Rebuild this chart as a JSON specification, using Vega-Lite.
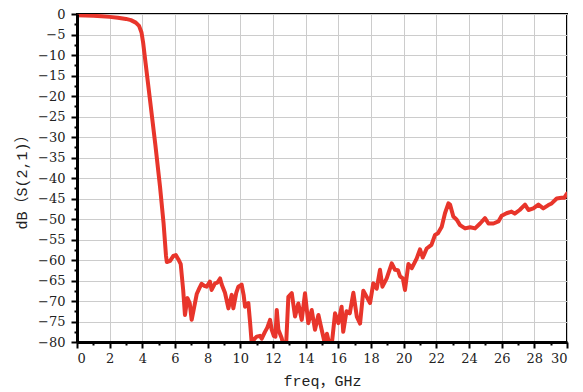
{
  "$schema": "https://vega.github.io/schema/vega-lite/v6.json",
  "width": 490,
  "height": 328,
  "autosize": "none",
  "padding": {"left": 77, "top": 14, "right": 16, "bottom": 50},
  "background": "white",
  "config": {
    "view": {"stroke": "black", "strokeWidth": 2},
    "axis": {
      "domainColor": "black",
      "domainWidth": 3,
      "tickColor": "black",
      "tickWidth": 2,
      "gridColor": "#cccccc",
      "gridWidth": 1
    }
  },
  "data": {
    "values": [
      {"f": 0, "s": -0.3}, {"f": 0.5, "s": -0.35}, {"f": 1, "s": -0.45}, {"f": 1.5, "s": -0.55},
      {"f": 2, "s": -0.7}, {"f": 2.5, "s": -0.9}, {"f": 3, "s": -1.2}, {"f": 3.3, "s": -1.5},
      {"f": 3.6, "s": -2.1}, {"f": 3.8, "s": -2.9}, {"f": 3.95, "s": -4.5}, {"f": 4.05, "s": -7},
      {"f": 4.2, "s": -12}, {"f": 4.47, "s": -21}, {"f": 4.8, "s": -32}, {"f": 5.08, "s": -42},
      {"f": 5.3, "s": -51}, {"f": 5.45, "s": -59}, {"f": 5.5, "s": -60.5}, {"f": 5.7, "s": -60.2},
      {"f": 5.9, "s": -59}, {"f": 6.05, "s": -58.8}, {"f": 6.2, "s": -59.8}, {"f": 6.35, "s": -61},
      {"f": 6.5, "s": -67.3}, {"f": 6.61, "s": -73.4}, {"f": 6.76, "s": -69.3}, {"f": 6.9, "s": -70.5},
      {"f": 7.02, "s": -74.6}, {"f": 7.15, "s": -72}, {"f": 7.33, "s": -68.3}, {"f": 7.5, "s": -66.8},
      {"f": 7.63, "s": -65.8}, {"f": 7.8, "s": -66.3}, {"f": 7.94, "s": -66.5}, {"f": 8.14, "s": -65.3},
      {"f": 8.24, "s": -67.3}, {"f": 8.45, "s": -65.7}, {"f": 8.6, "s": -65.5}, {"f": 8.76, "s": -64.5},
      {"f": 8.86, "s": -66}, {"f": 9.06, "s": -68}, {"f": 9.27, "s": -71.8}, {"f": 9.47, "s": -68.5},
      {"f": 9.57, "s": -71.8}, {"f": 9.75, "s": -68}, {"f": 9.88, "s": -66.5}, {"f": 10.08, "s": -66},
      {"f": 10.2, "s": -68.5}, {"f": 10.29, "s": -71.4}, {"f": 10.49, "s": -70.5}, {"f": 10.6, "s": -75.4},
      {"f": 10.7, "s": -80.5}, {"f": 10.85, "s": -79.3}, {"f": 11.0, "s": -78.7}, {"f": 11.2, "s": -78.5},
      {"f": 11.31, "s": -79.2}, {"f": 11.5, "s": -77.6}, {"f": 11.65, "s": -76.5}, {"f": 11.82, "s": -74.6},
      {"f": 11.92, "s": -77}, {"f": 12.05, "s": -78.5}, {"f": 12.15, "s": -78.7}, {"f": 12.23, "s": -72.2},
      {"f": 12.33, "s": -77}, {"f": 12.53, "s": -79}, {"f": 12.65, "s": -81}, {"f": 12.8, "s": -81},
      {"f": 12.94, "s": -69}, {"f": 13.15, "s": -68.1}, {"f": 13.35, "s": -73.8}, {"f": 13.55, "s": -70.6},
      {"f": 13.76, "s": -74.6}, {"f": 13.96, "s": -68.1}, {"f": 14.16, "s": -75.4}, {"f": 14.37, "s": -72.2},
      {"f": 14.57, "s": -77}, {"f": 14.78, "s": -73.4}, {"f": 14.98, "s": -77}, {"f": 15.18, "s": -80.5},
      {"f": 15.3, "s": -78}, {"f": 15.39, "s": -79.5}, {"f": 15.5, "s": -81}, {"f": 15.6, "s": -80.5},
      {"f": 15.8, "s": -73}, {"f": 16.0, "s": -75.4}, {"f": 16.2, "s": -71.4}, {"f": 16.3, "s": -77.5},
      {"f": 16.5, "s": -72.5}, {"f": 16.7, "s": -73}, {"f": 16.92, "s": -68}, {"f": 17.13, "s": -73.8},
      {"f": 17.33, "s": -75.5}, {"f": 17.53, "s": -67.5}, {"f": 17.74, "s": -69}, {"f": 17.94, "s": -70.5},
      {"f": 18.14, "s": -65.7}, {"f": 18.35, "s": -67}, {"f": 18.55, "s": -62.4}, {"f": 18.7, "s": -66.5},
      {"f": 18.96, "s": -64.5}, {"f": 19.27, "s": -60.8}, {"f": 19.47, "s": -62.4}, {"f": 19.65, "s": -62.5},
      {"f": 19.78, "s": -64}, {"f": 19.95, "s": -64.5}, {"f": 20.08, "s": -67.3}, {"f": 20.29, "s": -61},
      {"f": 20.5, "s": -62}, {"f": 20.8, "s": -59.6}, {"f": 21.0, "s": -57.4}, {"f": 21.17, "s": -59.4},
      {"f": 21.41, "s": -57.2}, {"f": 21.7, "s": -56.3}, {"f": 21.92, "s": -53.9}, {"f": 22.1, "s": -53.5},
      {"f": 22.33, "s": -51.9}, {"f": 22.53, "s": -48.6}, {"f": 22.74, "s": -46.2}, {"f": 22.84, "s": -46.5},
      {"f": 23.04, "s": -49.4}, {"f": 23.25, "s": -50.2}, {"f": 23.45, "s": -51.5}, {"f": 23.76, "s": -52.3},
      {"f": 24.07, "s": -52}, {"f": 24.37, "s": -52.3}, {"f": 24.68, "s": -51.1}, {"f": 24.98, "s": -49.8},
      {"f": 25.19, "s": -51.1}, {"f": 25.5, "s": -51.1}, {"f": 25.8, "s": -50.6}, {"f": 26.0, "s": -49.2},
      {"f": 26.3, "s": -48.6}, {"f": 26.6, "s": -48.2}, {"f": 26.8, "s": -48.7}, {"f": 27.1, "s": -47.8},
      {"f": 27.43, "s": -46.5}, {"f": 27.64, "s": -47.8}, {"f": 27.94, "s": -47.4}, {"f": 28.25, "s": -46.5},
      {"f": 28.55, "s": -47.4}, {"f": 28.86, "s": -46.6}, {"f": 29.06, "s": -46.2}, {"f": 29.37, "s": -45},
      {"f": 29.67, "s": -44.8}, {"f": 29.84, "s": -44.8}, {"f": 30.0, "s": -43.8}
    ]
  },
  "layer": [
    {
      "mark": {"type": "line", "strokeOpacity": 0, "clip": true},
      "encoding": {
        "x": {"field": "f", "type": "quantitative", "scale": {"domain": [0, 30], "nice": false, "zero": false},
          "axis": {"orient": "bottom", "values": [0,2,4,6,8,10,12,14,16,18,20,22,24,26,28,30], "grid": true, "labels": false, "ticks": false, "domain": false, "title": null, "zindex": 0}},
        "y": {"field": "s", "type": "quantitative", "scale": {"domain": [-80, 0], "nice": false, "zero": false},
          "axis": {"orient": "left", "values": [-80,-75,-70,-65,-60,-55,-50,-45,-40,-35,-30,-25,-20,-15,-10,-5,0], "grid": true, "labels": false, "ticks": false, "domain": false, "title": null, "zindex": 0}}
      }
    },
    {
      "mark": {"type": "line", "strokeOpacity": 0, "clip": true},
      "encoding": {
        "x": {"field": "f", "type": "quantitative",
          "axis": {"orient": "bottom", "values": [1,3,5,7,9,11,13,15,17,19,21,23,25,27,29], "grid": false, "labels": false, "ticks": true, "tickSize": 3, "domain": false, "title": null, "zindex": 1}},
        "y": {"field": "s", "type": "quantitative",
          "axis": {"orient": "left", "values": [-77.5,-72.5,-67.5,-62.5,-57.5,-52.5,-47.5,-42.5,-37.5,-32.5,-27.5,-22.5,-17.5,-12.5,-7.5,-2.5], "grid": false, "labels": false, "ticks": true, "tickSize": 3, "domain": false, "title": null, "zindex": 1}}
      }
    },
    {
      "mark": {"type": "line", "color": "#e8352b", "strokeWidth": 4, "clip": true, "strokeJoin": "round", "strokeCap": "round"},
      "encoding": {
        "x": {"field": "f", "type": "quantitative",
          "axis": {"orient": "bottom", "values": [0,2,4,6,8,10,12,14,16,18,20,22,24,26,28,30], "grid": false, "tickSize": 6, "labelPadding": 4,
            "labelFont": "DejaVu Serif", "labelFontSize": 13, "labelColor": "#222",
            "title": "freq，GHz", "titleFont": "'Liberation Mono', 'Noto Sans CJK SC'", "titleFontSize": 15, "titleFontWeight": "normal", "titleColor": "#222", "titlePadding": 8, "zindex": 1}},
        "y": {"field": "s", "type": "quantitative",
          "axis": {"orient": "left", "values": [-80,-75,-70,-65,-60,-55,-50,-45,-40,-35,-30,-25,-20,-15,-10,-5,0], "grid": false, "tickSize": 6, "labelPadding": 6,
            "labelFont": "DejaVu Serif", "labelFontSize": 13, "labelColor": "#222",
            "title": "dB（S(2,1)）", "titleFont": "'Liberation Mono', 'Noto Sans CJK SC'", "titleFontSize": 15, "titleFontWeight": "normal", "titleColor": "#222", "titlePadding": 8, "zindex": 1}}
      }
    }
  ],
  "resolve": {"axis": {"x": "independent", "y": "independent"}}
}
